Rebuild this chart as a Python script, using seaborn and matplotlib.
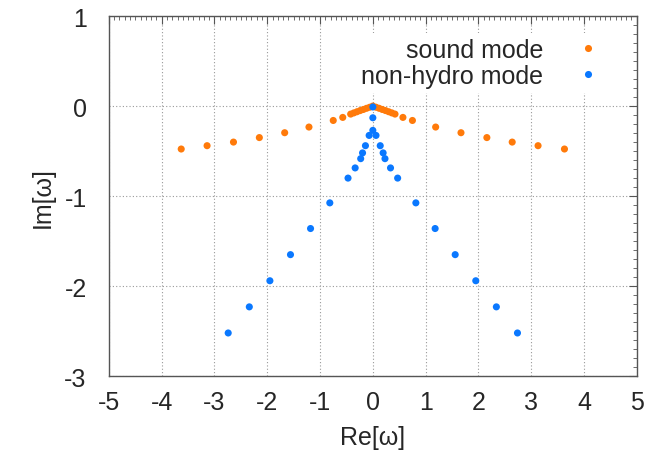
import numpy as np
import pandas as pd
import seaborn as sns
import matplotlib.pyplot as plt
from matplotlib.ticker import MultipleLocator

# sound mode (orange), left branch then right branch
sound_re = [-3.63, -3.14, -2.64, -2.15, -1.67, -1.21, -0.75, -0.57, -0.42,
            -0.36, -0.30, -0.24, -0.18, -0.12, -0.06, 0.0,
            0.06, 0.12, 0.18, 0.24, 0.30, 0.36,
            0.42, 0.57, 0.75, 1.19, 1.67, 2.16, 2.64, 3.13, 3.63]
sound_im = [-0.477, -0.44, -0.40, -0.35, -0.296, -0.233, -0.16, -0.126, -0.089,
            -0.076, -0.063, -0.05, -0.038, -0.025, -0.013, 0.0,
            -0.013, -0.025, -0.038, -0.05, -0.063, -0.076,
            -0.089, -0.126, -0.16, -0.233, -0.296, -0.35, -0.40, -0.44, -0.477]

# non-hydro mode (blue)
hydro_re = [0.0, 0.0, 0.0, -0.07, 0.06,
            -0.14, 0.14, -0.195, 0.195, -0.23, 0.23, -0.335, 0.335,
            -0.47, 0.47, -0.815, 0.815, -1.18, 1.18, -1.56, 1.56,
            -1.95, 1.95, -2.34, 2.34, -2.74, 2.74]
hydro_im = [-0.01, -0.13, -0.27, -0.326, -0.326,
            -0.44, -0.44, -0.52, -0.52, -0.584, -0.584, -0.687, -0.687,
            -0.80, -0.80, -1.075, -1.075, -1.36, -1.36, -1.65, -1.65,
            -1.94, -1.94, -2.23, -2.23, -2.52, -2.52]

df = pd.concat([
    pd.DataFrame({'re': sound_re, 'im': sound_im, 'mode': 'sound mode'}),
    pd.DataFrame({'re': hydro_re, 'im': hydro_im, 'mode': 'non-hydro mode'}),
])

sns.set_style('white')
plt.rcParams['font.family'] = ['Liberation Sans', 'DejaVu Sans']
plt.rcParams['axes.unicode_minus'] = False

fig = plt.figure(figsize=(6.64, 4.6), dpi=100)
ax = fig.add_axes([0.164, 0.180, 0.795, 0.783])

palette = {'sound mode': '#ff7a0a', 'non-hydro mode': '#0a78ff'}
sns.scatterplot(data=df, x='re', y='im', hue='mode', palette=palette,
                s=26, linewidth=0, ax=ax, zorder=3)

ax.set_xlim(-5, 5)
ax.set_ylim(-3, 1)
ax.xaxis.set_major_locator(MultipleLocator(1))
ax.xaxis.set_minor_locator(MultipleLocator(0.1))
ax.yaxis.set_major_locator(MultipleLocator(1))
ax.yaxis.set_minor_locator(MultipleLocator(0.1))
ax.tick_params(which='both', direction='in', top=True, right=True,
               color='#555555')
ax.tick_params(which='major', length=6, labelsize=18)
ax.tick_params(axis='x', which='major', pad=10)
ax.tick_params(axis='y', which='major', pad=16)
ax.tick_params(which='minor', length=3)
for sp in ax.spines.values():
    sp.set_color('#555555')
    sp.set_linewidth(1.0)
ax.grid(True, which='major', linestyle=(0, (1, 2)), color='#999999',
        linewidth=0.8)

ax.set_xlabel('Re[ω]', fontsize=18, labelpad=8)
ax.set_ylabel('Im[ω]', fontsize=18, labelpad=7)

handles, labels = ax.get_legend_handles_labels()
leg = ax.legend(handles, labels, loc='upper right', markerfirst=False,
                fontsize=18, frameon=True, framealpha=1, edgecolor='none',
                facecolor='white', handletextpad=1.2, borderaxespad=0.3,
                labelspacing=0.08, handlelength=1.2, fancybox=False,
                borderpad=0.2, bbox_to_anchor=(0.96, 0.975))
for t in leg.get_texts():
    t.set_ha('right')

fig.savefig('out.png', dpi=100)
